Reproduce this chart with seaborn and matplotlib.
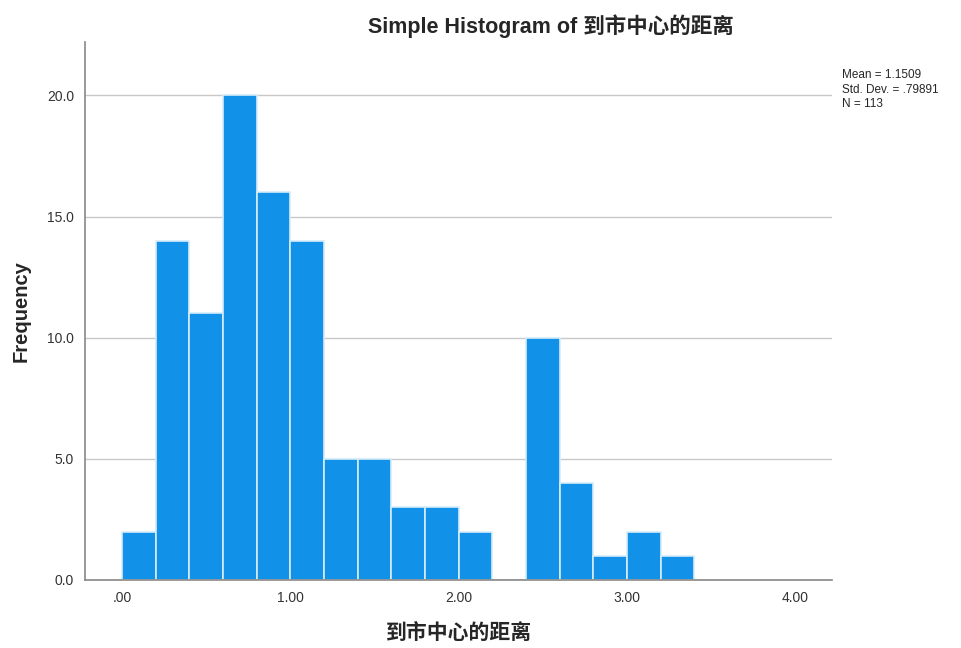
import numpy as np
import pandas as pd
import matplotlib.pyplot as plt
import seaborn as sns

# 히스토그램 구간 (폭 0.2)
bin_edges = [0.0, 0.2, 0.4, 0.6, 0.8, 1.0, 1.2, 1.4, 1.6, 1.8, 2.0,
             2.2, 2.4, 2.6, 2.8, 3.0, 3.2, 3.4]
counts = [2, 14, 11, 20, 16, 14, 5, 5, 3, 3, 2, 0, 10, 4, 1, 2, 1]
y_ticks = [0, 5, 10, 15, 20]
x_ticks = [0, 1, 2, 3, 4]
x_tick_labels = ['.00', '1.00', '2.00', '3.00', '4.00']
stats_text = 'Mean = 1.1509\nStd. Dev. = .79891\nN = 113'

centers = [(a + b) / 2 for a, b in zip(bin_edges[:-1], bin_edges[1:])]
df = pd.DataFrame({'dist': centers, 'n': counts})

sns.set_style('white')
plt.rcParams['font.family'] = ['Liberation Sans', 'Noto Sans CJK SC', 'DejaVu Sans']

fig = plt.figure(figsize=(9.61, 6.48), dpi=100)
ax = fig.add_axes([0.0885, 0.105, 0.7775, 0.83])

ax.yaxis.grid(True, color='#c8c8c8', linewidth=1)
ax.set_axisbelow(True)
sns.histplot(data=df, x='dist', weights='n', bins=bin_edges, ax=ax,
             color='#1192e8', alpha=1, edgecolor='#d6ecfb', linewidth=1.2)

ax.set_xlim(-0.22, 4.22)
ax.set_ylim(0, 22.2)
ax.set_yticks(y_ticks)
ax.set_yticklabels([f'{v:.1f}' for v in y_ticks])
ax.set_xticks(x_ticks)
ax.set_xticklabels(x_tick_labels)
ax.tick_params(axis='both', length=0, labelsize=10, colors='#333333', pad=8)

for side in ['top', 'right']:
    ax.spines[side].set_visible(False)
for side in ['left', 'bottom']:
    ax.spines[side].set_color('#888888')
    ax.spines[side].set_linewidth(1.2)

ax.set_xlabel('到市中心的距离', fontsize=15, fontweight='bold', labelpad=13)
ax.set_ylabel('Frequency', fontsize=14.5, fontweight='bold', labelpad=12)
fig.suptitle('Simple Histogram of 到市中心的距离', x=0.573, y=0.978,
             fontsize=15.5, fontweight='bold')

fig.text(0.876, 0.893, stats_text, fontsize=8.5, va='top', ha='left',
         linespacing=1.25)

plt.savefig('out.png', dpi=100)
